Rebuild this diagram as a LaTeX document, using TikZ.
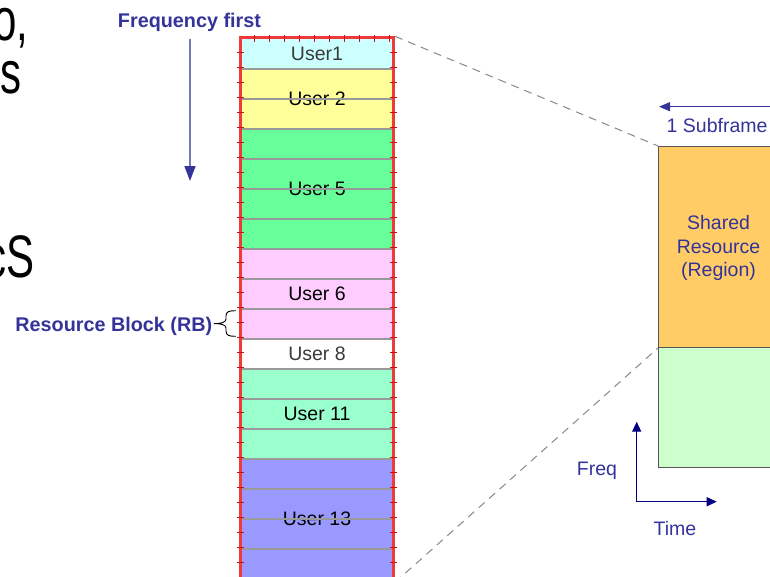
\documentclass[tikz,border=0pt]{standalone}
\usepackage{fontspec}
\usepackage{graphicx}
\setmainfont{Liberation Sans}
\usetikzlibrary{arrows.meta}
\definecolor{txtblue}{HTML}{333399}
\definecolor{lineblue}{HTML}{7777BB}
\definecolor{navyax}{HTML}{000080}
\definecolor{colred}{HTML}{F03A3A}
\definecolor{tickred}{HTML}{D01010}
\definecolor{rowgray}{HTML}{999999}
\definecolor{dashgray}{HTML}{888888}
\definecolor{boxgray}{HTML}{555555}
\definecolor{cCyan}{HTML}{CCFFFF}
\definecolor{cYellow}{HTML}{FFFF99}
\definecolor{cGreen}{HTML}{66FF99}
\definecolor{cPink}{HTML}{FFCCFF}
\definecolor{cMint}{HTML}{99FFCC}
\definecolor{cViolet}{HTML}{9999FF}
\definecolor{cOrange}{HTML}{FFCC66}
\definecolor{cLight}{HTML}{CCFFCC}
\definecolor{dgray}{HTML}{3A3A3A}
\newcommand{\narrowfrag}[1]{\scalebox{0.7}[1]{#1}}
\begin{document}
\begin{tikzpicture}[x=1pt,y=-1pt,
  blk/.style={minimum width=150pt,inner sep=0pt,draw=none},
  utxt/.style={anchor=base,inner sep=0pt,font=\fontsize{19.5}{23}\selectfont},
  boldlbl/.style={inner sep=0pt,text=txtblue,font=\fontsize{19.8}{23}\selectfont\bfseries},
  bluelbl/.style={inner sep=0pt,text=txtblue,font=\fontsize{19.5}{23.5}\selectfont},
  bigtxt/.style={inner sep=0pt,anchor=base east,font=\fontsize{60}{70}\selectfont},
  rowline/.style={draw=rowgray,line width=2pt},
  redtick/.style={draw=tickred,line width=0.8pt},
  zoomline/.style={draw=dashgray,line width=1pt,dash pattern=on 8pt off 6pt},
  regionbox/.style={draw=boxgray,line width=1.5pt,inner sep=0pt,minimum width=131.3pt},
  axisarrow/.style={draw=navyax,line width=1.3pt,-{Triangle[length=10pt,width=9pt]}},
]
\useasboundingbox (0,0) rectangle (770,576);

% cut-off slide text at the left edge
\node[bigtxt,text height=31pt,text depth=5pt] (frag1) at (28.7,40.5) {\narrowfrag{o,}};
\node[bigtxt,text height=31pt,text depth=0pt] (frag2) at (21.3,93) {\narrowfrag{s}};
\node[bigtxt] (frag3) at (35,277) {\narrowfrag{cS}};

% resource blocks (rows of 30px starting at 39.3)
\node[blk,fill=cCyan,minimum height=30pt]   (b1)  at (317,54.3)  {};
\node[blk,fill=cYellow,minimum height=60pt] (b2)  at (317,99.3)  {};
\node[blk,fill=cGreen,minimum height=120pt] (b5)  at (317,189.3) {};
\node[blk,fill=cPink,minimum height=90pt]   (b6)  at (317,294.3) {};
\node[blk,fill=white,minimum height=30pt]   (b8)  at (317,354.3) {};
\node[blk,fill=cMint,minimum height=90pt]   (b11) at (317,414.3) {};
\node[blk,fill=cViolet,minimum height=120pt](b13) at (317,519.3) {};

% user labels
\node[utxt,text=dgray] (t1)  at (317,60.6)  {User1};
\node[utxt]            (t2)  at (317,105.3) {User 2};
\node[utxt]            (t5)  at (317,195.3) {User 5};
\node[utxt]            (t6)  at (317,300.6) {User 6};
\node[utxt,text=dgray] (t8)  at (317,360.6) {User 8};
\node[utxt]            (t11) at (317,420.6) {User 11};
\node[utxt]            (t13) at (317,525.3) {User 13};

% RB separator lines (drawn over text)
\foreach \k in {1,...,17}
  \draw[rowline] (242,{39.3+30*\k}) -- (392,{39.3+30*\k});

% red column frame
\node[draw=colred,line width=3pt,minimum width=153pt,minimum height=543pt,inner sep=0pt] (col) at (317,309.3) {};
\foreach \x in {254,269,...,389}
  \draw[redtick] (\x,34.8) -- (\x,41.5);
\foreach \y in {52,67,...,577} {
  \draw[redtick] (237.3,\y) -- (244,\y);
  \draw[redtick] (390.3,\y) -- (397,\y);
}

% frequency-first arrow
\node[boldlbl,anchor=base] (ff) at (189.5,27.3) {Frequency first};
\coordinate (ffA) at (190,39);
\coordinate (ffB) at (190,181);
\draw[draw=lineblue,line width=1.5pt,-{Triangle[length=15pt,width=11pt,color=txtblue]}] (ffA) -- (ffB);

% resource block brace and label
\node[boldlbl,anchor=base east] (rb) at (212.5,331) {Resource Block (RB)};
\draw[line width=0.9pt] (236,310.7) .. controls (229,310.7) and (226,311.5) .. (226,316)
  -- (226,319) .. controls (226,322.5) and (221,323.6) .. (214,323.6)
  .. controls (221,323.6) and (226,324.7) .. (226,328)
  -- (226,331) .. controls (226,335.5) and (229,336.3) .. (236,336.3);

% zoomed region on the right
\node[regionbox,fill=cOrange,minimum height=200.6pt] (shared) at (724.35,247) {};
\node[regionbox,fill=cLight,minimum height=120.4pt] (lower) at (724.35,407.5) {};
\node[bluelbl,align=center] (stext) at (718.5,248) {Shared\\Resource\\(Region)};

% dashed zoom lines
\draw[zoomline] (col.north east) -- (shared.north west);
\draw[zoomline] (col.south east) -- (shared.south west);

% subframe arrow
\coordinate (sfL) at (659,106.7);
\coordinate (sfR) at (781,106.7);
\draw[draw=txtblue,line width=1pt,{Triangle[length=11pt,width=9pt]}-{Triangle[length=11pt,width=9pt]}] (sfL) -- (sfR);
\node[bluelbl,anchor=base west] (sf) at (666.5,132.3) {1 Subframe};

% freq / time axes
\coordinate (orig) at (636.7,501.7);
\coordinate (fTip) at (636.7,421.7);
\coordinate (tTip) at (716.7,501.7);
\draw[axisarrow] (orig) -- (fTip);
\draw[axisarrow] (orig) -- (tTip);
\node[bluelbl,anchor=base] (freq) at (597,475) {Freq};
\node[bluelbl,anchor=base] (time) at (675,535) {Time};
\end{tikzpicture}
\end{document}
